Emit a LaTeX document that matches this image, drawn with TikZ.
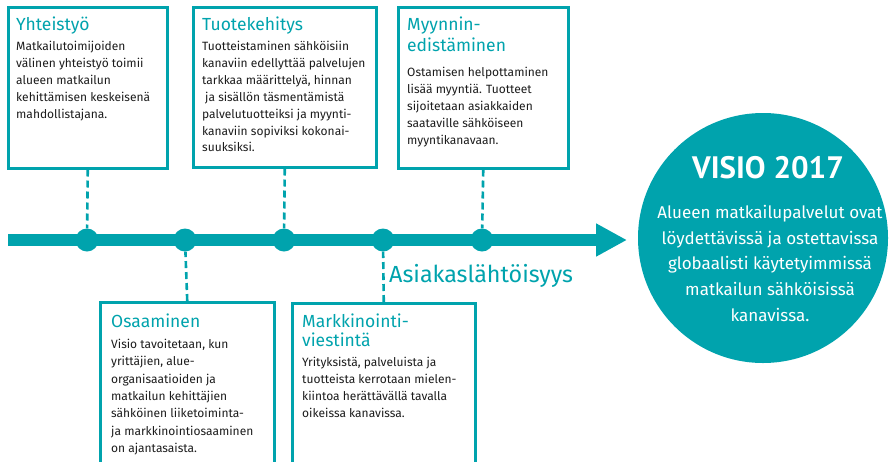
\documentclass[tikz,border=0pt]{standalone}
\usepackage{fontspec}
\setmainfont{Fira Sans}
\newfontfamily\titlefont{PT Sans}
\usetikzlibrary{arrows.meta}
\definecolor{teal}{RGB}{0,163,173}
\definecolor{ink}{RGB}{28,28,28}
\tikzset{
  stagebox/.style={draw=teal, line width=2.5pt, fill=white, rectangle, inner sep=0pt, anchor=north west},
  heading/.style={anchor=north west, inner sep=0pt, text=teal, align=left, font=\fontsize{17.5}{21}\selectfont},
  bodytext/.style={anchor=north west, inner sep=0pt, text=ink, align=left, font=\fontsize{12}{16.9}\selectfont},
  milestone/.style={circle, fill=teal, minimum size=23pt, inner sep=0pt},
  link/.style={draw=teal, line width=2.6pt, dash pattern=on 7pt off 4pt},
}
\begin{document}
\begin{tikzpicture}[x=1pt, y=-1pt]
\useasboundingbox (0,0) rectangle (896,461);

% timeline arrow
\coordinate (tstart) at (8,240);
\coordinate (tend) at (627,240);
\draw[teal, line width=12pt, -{Triangle[length=31pt, width=31pt]}] (tstart) -- (tend);

% milestones on the timeline
\node[milestone] (d1) at (87,240) {};
\node[milestone] (d2) at (185,240) {};
\node[milestone] (d3) at (284,240) {};
\node[milestone] (d4) at (383,240) {};
\node[milestone] (d5) at (482,240) {};

% upper boxes
\node[stagebox, minimum width=159pt, minimum height=161pt] (b1) at (7,6) {};
\node[stagebox, minimum width=183pt, minimum height=160pt] (b2) at (192,6) {};
\node[stagebox, minimum width=170pt, minimum height=161pt] (b3) at (397,6) {};

% lower boxes
\node[stagebox, minimum width=174pt, minimum height=165pt] (b4) at (99,301) {};
\node[stagebox, minimum width=183pt, minimum height=164pt] (b5) at (291,302) {};

% connectors from boxes to milestones
\draw[link] (b1.south) -- (d1);
\draw[link] (b2.south) -- (d3);
\draw[link] (b3.south) -- (d5);
\draw[link] (b4.north) -- (d2);
\draw[link] (b5.north) -- (d4);

% box texts
\node[heading] (h1) at (16,17) {Yhteistyö};
\node[bodytext] (t1) at (16,41) {Matkailutoimijoiden\\välinen yhteistyö toimii\\alueen matkailun\\kehittämisen keskeisenä\\mahdollistajana.};

\node[heading] (h2) at (202,17) {Tuotekehitys};
\node[bodytext] (t2) at (202,41) {Tuotteistaminen sähköisiin\\kanaviin edellyttää palvelujen\\tarkkaa määrittelyä, hinnan\\\hspace*{0.25em}ja sisällön täsmentämistä\\palvelutuotteiksi ja myynti-\\kanaviin sopiviksi kokonai-\\suuksiksi.};

\node[heading] (h3) at (407,17) {Myynnin-\\edistäminen};
\node[bodytext] (t3) at (407,67) {Ostamisen helpottaminen\\lisää myyntiä. Tuotteet\\sijoitetaan asiakkaiden\\saataville sähköiseen\\myyntikanavaan.};

\node[heading] (h4) at (111,314) {Osaaminen};
\node[bodytext, font=\fontsize{12}{17.3}\selectfont] (t4) at (111,339) {Visio tavoitetaan, kun\\yrittäjien, alue-\\organisaatioiden ja\\matkailun kehittäjien\\sähköinen liiketoiminta-\\ja markkinointiosaaminen\\on ajantasaista.};

\node[heading, font=\fontsize{17.5}{18.5}\selectfont] (h5) at (302,314) {Markkinointi-\\viestintä};
\node[bodytext] (t5) at (302,357) {Yrityksistä, palveluista ja\\tuotteista kerrotaan mielen-\\kiintoa herättävällä tavalla\\oikeissa kanavissa.};

% axis label
\node[anchor=base west, inner sep=0pt, text=teal, font=\fontsize{23.3}{27}\selectfont] (axis) at (389,282) {Asiakaslähtöisyys};

% vision circle
\node[circle, fill=teal, minimum size=250pt, inner sep=0pt] (visio) at (763,238) {};
\node[anchor=base, text=white, font=\titlefont\bfseries\fontsize{31}{34}\selectfont, inner sep=0pt] (vtitle) at (768,178) {VISIO 2017};
\node[anchor=north, text=white, align=center, inner sep=0pt, font=\fontsize{17}{25.7}\selectfont] (vtext) at (770,205) {Alueen matkailupalvelut ovat\\löydettävissä ja ostettavissa\\globaalisti käytetyimmissä\\matkailun sähköisissä\\kanavissa.};
\end{tikzpicture}
\end{document}
